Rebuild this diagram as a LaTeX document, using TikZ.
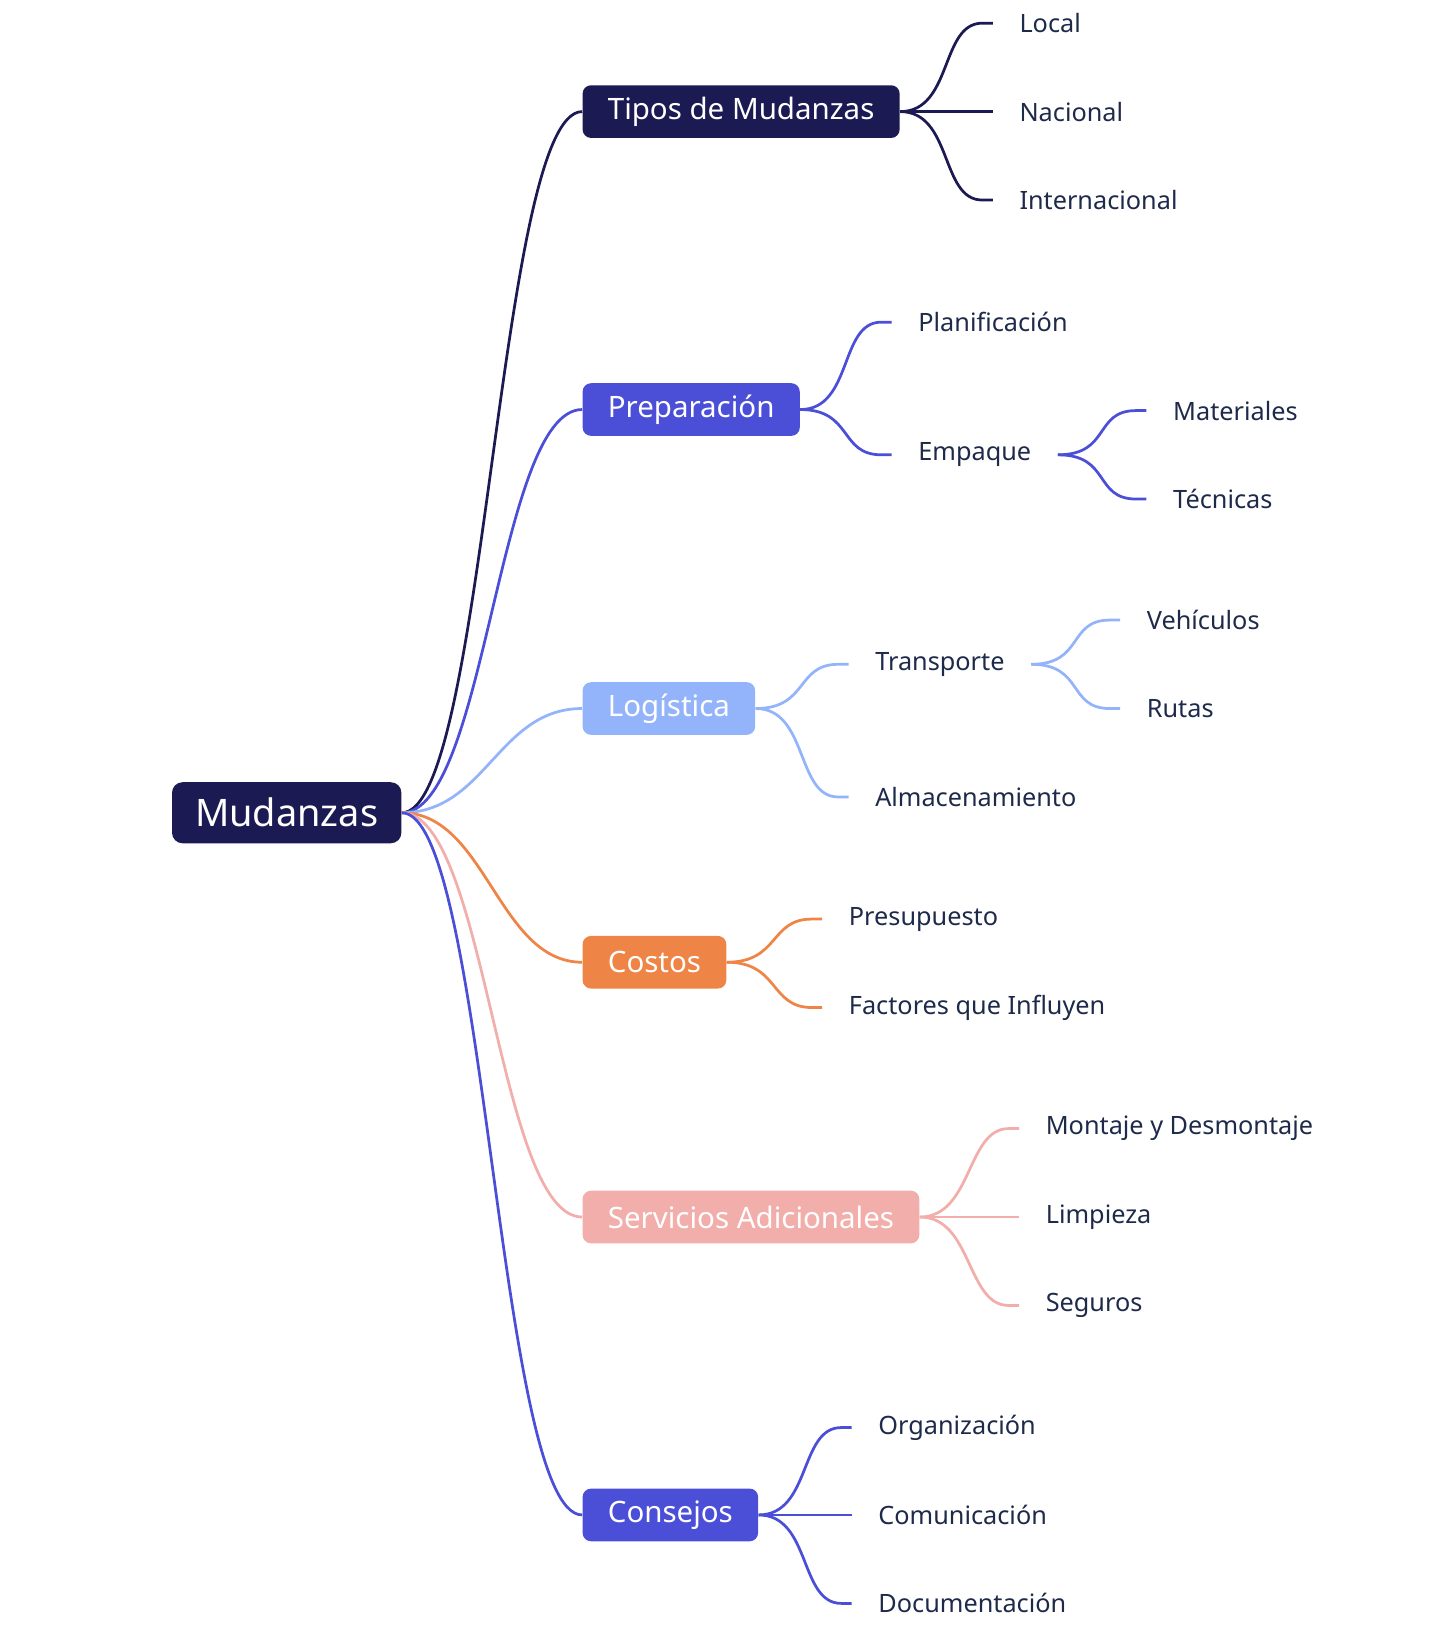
\documentclass[tikz,border=0pt]{standalone}
\usepackage{fontspec}
\setmainfont{Noto Sans}
\definecolor{navy}{HTML}{1C1A53}
\definecolor{indig}{HTML}{4B4FD8}
\definecolor{lblue}{HTML}{93B4FB}
\definecolor{orng}{HTML}{EE8445}
\definecolor{pnk}{HTML}{F2AEAA}
\definecolor{txt}{HTML}{1E2A4A}
\begin{document}
\begin{tikzpicture}[x=0.5pt,y=-0.5pt,
 root/.style={fill=navy,text=white,rounded corners=5pt,font=\fontsize{18}{20}\selectfont\bfseries,minimum height=29pt,inner xsep=11pt,anchor=west},
 box/.style={fill=#1,text=white,rounded corners=4pt,font=\fontsize{14}{16}\selectfont\bfseries,minimum height=25pt,inner xsep=12pt,anchor=west},
 leaf/.style={anchor=west,inner xsep=12.5pt,inner ysep=0pt,text=txt,font=\fontsize{12}{14}\selectfont},
 ln/.style={draw=#1,line width=1.3pt}]
\useasboundingbox (0,0) rectangle (1360,1554);
\node[root] (r) at (163,772) {Mudanzas};
\node[box=navy] (a) at (553,106) {Tipos de Mudanzas};
\node[box=indig] (b) at (553,389) {Preparación};
\node[box=lblue] (c) at (553,673) {Logística};
\node[box=orng] (d) at (553,914) {Costos};
\node[box=pnk] (e) at (553,1156) {Servicios Adicionales};
\node[box=indig] (f) at (553,1439) {Consejos};
\foreach \n/\c in {a/navy,b/indig,c/lblue,d/orng,e/pnk,f/indig}{
 \draw[ln=\c] (r.east) .. controls ([xshift=40pt]r.east) and ([xshift=-40pt]\n.west) .. (\n.west);}
% leaves
\node[leaf] (a1) at (943,22) {Local};
\node[leaf] (a2) at (943,106) {Nacional};
\node[leaf] (a3) at (943,190) {Internacional};
\node[leaf] (b1) at (847,306) {Planificación};
\node[leaf] (b2) at (847,432) {Empaque};
\node[leaf] (b21) at (1089,390) {Materiales};
\node[leaf] (b22) at (1089,474) {Técnicas};
\node[leaf] (c1) at (806,631) {Transporte};
\node[leaf] (c2) at (806,757) {Almacenamiento};
\node[leaf] (c11) at (1064,589) {Vehículos};
\node[leaf] (c12) at (1064,673) {Rutas};
\node[leaf] (d1) at (781,873) {Presupuesto};
\node[leaf] (d2) at (781,957) {Factores que Influyen};
\node[leaf] (e1) at (968,1072) {Montaje y Desmontaje};
\node[leaf] (e2) at (968,1156) {Limpieza};
\node[leaf] (e3) at (968,1240) {Seguros};
\node[leaf] (f1) at (809,1356) {Organización};
\node[leaf] (f2) at (809,1439) {Comunicación};
\node[leaf] (f3) at (809,1523) {Documentación};
\foreach \p/\q/\c in {a/a1/navy,a/a2/navy,a/a3/navy,b/b1/indig,b/b2/indig,b2/b21/indig,b2/b22/indig,
 c/c1/lblue,c/c2/lblue,c1/c11/lblue,c1/c12/lblue,d/d1/orng,d/d2/orng,e/e1/pnk,e/e2/pnk,e/e3/pnk,f/f1/indig,f/f2/indig,f/f3/indig}{
 \draw[ln=\c] (\p.east) .. controls ([xshift=25pt]\p.east) and ([xshift=-25pt]\q.west) .. ([xshift=-5pt]\q.west) -- (\q.west);}
\end{tikzpicture}
\end{document}
